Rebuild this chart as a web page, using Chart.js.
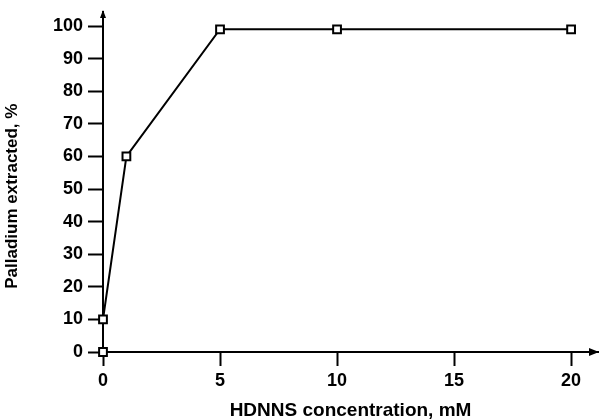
<!DOCTYPE html>
<html>
<head>
<meta charset="utf-8">
<script src="https://cdn.jsdelivr.net/npm/chart.js@4/dist/chart.umd.min.js"></script>
<style>
  html, body { margin: 0; padding: 0; background: #fff; overflow: hidden; }
  #wrap { width: 600px; height: 419px; }
</style>
</head>
<body>
<div id="wrap"><canvas id="grafico"></canvas></div>
<script>
// datos
const concentracion = [0, 0, 1, 5, 10, 20];
const extraido = [0, 10, 60, 99, 99, 99];
const ticksX = [0, 5, 10, 15, 20];
const ticksY = [0, 10, 20, 30, 40, 50, 60, 70, 80, 90, 100];

const puntos = concentracion.map((c, i) => ({ x: c, y: extraido[i] }));

// flechas al final de los ejes
const flechas = {
    id: 'flechas',
    afterDraw(chart) {
        const ctx = chart.ctx;
        const a = chart.chartArea;
        ctx.save();
        ctx.fillStyle = '#000';
        ctx.beginPath();
        ctx.moveTo(a.right + 1, a.bottom);
        ctx.lineTo(a.right - 9, a.bottom - 4);
        ctx.lineTo(a.right - 9, a.bottom + 4);
        ctx.closePath();
        ctx.fill();
        ctx.beginPath();
        ctx.moveTo(a.left, a.top - 2);
        ctx.lineTo(a.left - 3, a.top + 6);
        ctx.lineTo(a.left + 3, a.top + 6);
        ctx.closePath();
        ctx.fill();
        ctx.restore();
    }
};

const fuente = 'Liberation Sans, Arial, sans-serif';

const config = {
    type: 'scatter',
    data: {
        datasets: [{
            data: puntos,
            showLine: true,
            borderColor: '#000',
            borderWidth: 2,
            backgroundColor: '#fff',
            pointStyle: 'rect',
            pointRadius: 5.5,
            pointBorderWidth: 2,
            pointBorderColor: '#000',
            pointBackgroundColor: '#fff',
            clip: false
        }]
    },
    options: {
        responsive: true,
        maintainAspectRatio: false,
        animation: false,
        layout: { autoPadding: false, padding: { top: 12, right: 2, left: 0, bottom: 0 } },
        plugins: { legend: { display: false }, tooltip: { enabled: false } },
        scales: {
            x: {
                type: 'linear',
                min: 0,
                max: 21.15,
                afterBuildTicks: s => { s.ticks = ticksX.map(v => ({ value: v })); },
                afterFit: s => { s.height = 67; s.paddingLeft = 0; s.paddingRight = 0; },
                grid: { drawOnChartArea: false, tickLength: 14, tickWidth: 2, color: '#000' },
                border: { color: '#000', width: 2 },
                ticks: { color: '#000', padding: 4, maxRotation: 0, font: { family: fuente, size: 18, weight: 'bold' } },
                title: { display: true, text: 'HDNNS concentration, mM', color: '#000', padding: { top: 0, bottom: -3 }, font: { family: fuente, size: 19, weight: 'bold' } }
            },
            y: {
                type: 'linear',
                min: 0,
                max: 104.3,
                afterBuildTicks: s => { s.ticks = ticksY.map(v => ({ value: v })); },
                afterFit: s => { s.width = 103; s.paddingTop = 0; s.paddingBottom = 0; },
                grid: { drawOnChartArea: false, tickLength: 15, tickWidth: 2, color: '#000' },
                border: { color: '#000', width: 2 },
                ticks: { color: '#000', padding: 5, font: { family: fuente, size: 18, weight: 'bold' } },
                title: { display: true, text: 'Palladium extracted, %      ', color: '#000', padding: { top: 2, bottom: 0 }, font: { family: fuente, size: 17, weight: 'bold' } }
            }
        }
    },
    plugins: [flechas]
};

const grafico = new Chart(document.getElementById('grafico'), config);
</script>
</body>
</html>
